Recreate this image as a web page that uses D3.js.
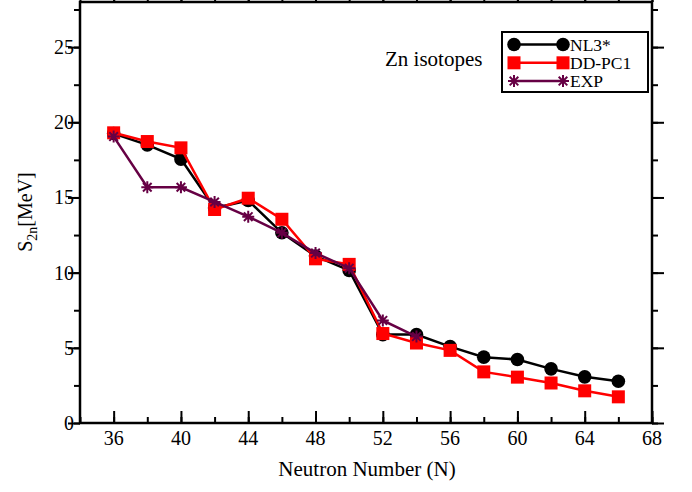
<!DOCTYPE html>
<html>
<head>
<meta charset="utf-8">
<script src="https://cdn.jsdelivr.net/npm/d3@7"></script>
<style>
  body { margin: 0; background: #fff; }
  text { font-family: "Liberation Serif", "Times New Roman", serif; fill: #000; }
</style>
</head>
<body>
<div id="chart"></div>
<script>
var neutrons = [36, 38, 40, 42, 44, 46, 48, 50, 52, 54, 56, 58, 60, 62, 64, 66];
var nl3 = [19.25, 18.5, 17.55, 14.3, 14.8, 12.65, 11.1, 10.15, 5.88, 5.88, 5.08, 4.38, 4.22, 3.6, 3.07, 2.78];
var ddpc1 = [19.3, 18.72, 18.3, 14.2, 14.95, 13.55, 10.92, 10.55, 5.95, 5.32, 4.83, 3.4, 3.05, 2.66, 2.14, 1.74];
var expN = [36, 38, 40, 42, 44, 46, 48, 50, 52, 54];
var expS = [19.05, 15.68, 15.68, 14.7, 13.72, 12.65, 11.3, 10.3, 6.82, 5.75];
var xTicks = [36, 40, 44, 48, 52, 56, 60, 64, 68];
var yTicks = [0, 5, 10, 15, 20, 25];

var svgWidth = 692;
var svgHeight = 492;
var margin = { top: 2, right: 40, bottom: 68, left: 80 };
var width = 652 - margin.left;
var height = 423 - margin.top;

var svg = d3.select("#chart")
  .append("svg")
  .attr("width", svgWidth)
  .attr("height", svgHeight);

var chartGroup = svg.append("g")
  .attr("transform", `translate(${margin.left}, ${margin.top})`);

var xScale = d3.scaleLinear().domain([34, 68]).range([0, width]);
var yScale = d3.scaleLinear().domain([0, 28]).range([height, 0]);

var xMinor = d3.range(34, 68.1, 2);
var yMinor = d3.range(0, 28.1, 2.5);

// ticks on all four sides, pointing inward
function tickAxis(g, axis, ticks, size) {
  g.call(axis.tickValues(ticks).tickSize(-size).tickFormat(""));
  g.select(".domain").remove();
  g.selectAll("line").attr("stroke", "#000").attr("stroke-width", 2);
}
chartGroup.append("g").attr("transform", `translate(0, ${height})`)
  .call(tickAxis, d3.axisBottom(xScale), xMinor, 6);
chartGroup.append("g").attr("transform", `translate(0, ${height})`)
  .call(tickAxis, d3.axisBottom(xScale), xTicks, 12);
chartGroup.append("g").call(tickAxis, d3.axisTop(xScale), xMinor, -6);
chartGroup.append("g").call(tickAxis, d3.axisTop(xScale), xTicks, -12);
chartGroup.append("g").call(tickAxis, d3.axisLeft(yScale), yMinor, -6);
chartGroup.append("g").call(tickAxis, d3.axisLeft(yScale), yTicks, -12);
chartGroup.append("g").attr("transform", `translate(${width}, 0)`)
  .call(tickAxis, d3.axisRight(yScale), yMinor, -6);
chartGroup.append("g").attr("transform", `translate(${width}, 0)`)
  .call(tickAxis, d3.axisRight(yScale), yTicks, -12);

chartGroup.append("rect")
  .attr("width", width).attr("height", height)
  .attr("fill", "none").attr("stroke", "#000").attr("stroke-width", 2.5);

chartGroup.selectAll(".xlab")
  .data(xTicks).enter().append("text")
  .attr("x", d => xScale(d))
  .attr("y", height + 22)
  .attr("text-anchor", "middle")
  .attr("font-size", 20)
  .text(d => d);

chartGroup.selectAll(".ylab")
  .data(yTicks).enter().append("text")
  .attr("x", -6)
  .attr("y", d => yScale(d) + 7)
  .attr("text-anchor", "end")
  .attr("font-size", 20)
  .text(d => d);

svg.append("text")
  .attr("x", 367).attr("y", 476)
  .attr("text-anchor", "middle")
  .attr("font-size", 21)
  .text("Neutron Number (N)");

var yTitle = svg.append("text")
  .attr("transform", "translate(32, 212) rotate(-90)")
  .attr("text-anchor", "middle")
  .attr("font-size", 20);
yTitle.append("tspan").text("S");
yTitle.append("tspan").attr("font-size", 14).attr("dy", 5).text("2n");
yTitle.append("tspan").attr("dy", -5).text("[MeV]");

var starPath = "M-6,0L6,0M0,-6L0,6M-4.3,-4.3L4.3,4.3M-4.3,4.3L4.3,-4.3";

var series = [
  { name: "NL3*", xs: neutrons, ys: nl3, color: "#000000", marker: "circle" },
  { name: "DD-PC1", xs: neutrons, ys: ddpc1, color: "#ff0000", marker: "square" },
  { name: "EXP", xs: expN, ys: expS, color: "#660044", marker: "star" }
];

function drawMarker(g, s, x, y) {
  if (s.marker === "circle") {
    g.append("circle").attr("cx", x).attr("cy", y).attr("r", 6.8).attr("fill", s.color);
  } else if (s.marker === "square") {
    g.append("rect").attr("x", x - 6.5).attr("y", y - 6.5)
      .attr("width", 13).attr("height", 13).attr("fill", s.color);
  } else {
    g.append("path").attr("transform", `translate(${x}, ${y})`)
      .attr("d", starPath).attr("stroke", s.color).attr("stroke-width", 2).attr("fill", "none");
  }
}

var line = d3.line().x(d => xScale(d[0])).y(d => yScale(d[1]));

series.forEach(function(s) {
  var pts = s.xs.map((n, i) => [n, s.ys[i]]);
  var g = chartGroup.append("g");
  g.append("path")
    .attr("d", line(pts))
    .attr("fill", "none")
    .attr("stroke", s.color)
    .attr("stroke-width", 2.5);
  pts.forEach(p => drawMarker(g, s, xScale(p[0]), yScale(p[1])));
});

// legend
var legend = svg.append("g").attr("transform", "translate(502, 32)");
legend.append("rect")
  .attr("width", 146).attr("height", 60)
  .attr("fill", "#fff").attr("stroke", "#000").attr("stroke-width", 2);
series.forEach(function(s, i) {
  var y = 12.5 + i * 18.3;
  var g = legend.append("g");
  g.append("line").attr("x1", 12).attr("x2", 61).attr("y1", y).attr("y2", y)
    .attr("stroke", s.color).attr("stroke-width", 2.5);
  drawMarker(g, s, 12, y);
  drawMarker(g, s, 61, y);
  g.append("text").attr("x", 68).attr("y", y + 6)
    .attr("font-size", 17.5).text(s.name);
});

svg.append("text")
  .attr("x", 385).attr("y", 66)
  .attr("font-size", 21)
  .text("Zn isotopes");
</script>
</body>
</html>
